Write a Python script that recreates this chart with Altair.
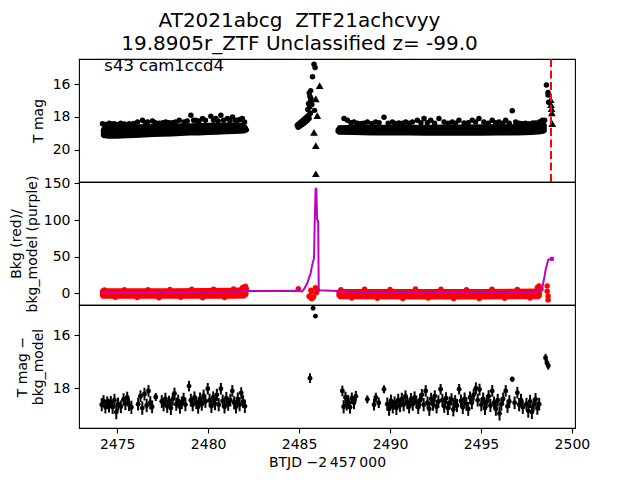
import altair as alt
import pandas as pd

FONT = "DejaVu Sans"

# ---------------- top panel: raw photometry ----------------
# dense core of the light curve (faint / bright envelope of the overlapping markers)
band_seg = [1]*20 + [2]*16
band_t = [2474.10, 2474.20, 2474.50, 2475.00, 2475.50, 2476.00, 2476.50, 2477.00, 2477.50, 2478.00,
          2478.50, 2479.00, 2479.50, 2480.00, 2480.50, 2481.00, 2481.50, 2482.00, 2482.15, 2482.25,
          2487.00, 2487.15, 2488.00, 2489.00, 2490.00, 2491.00, 2492.00, 2493.00, 2494.00, 2495.00,
          2496.00, 2497.00, 2497.80, 2498.30, 2498.50, 2498.62]
band_faint = [19.15, 19.28, 19.32, 19.32, 19.30, 19.28, 19.25, 19.22, 19.20, 19.18,
              19.15, 19.13, 19.12, 19.10, 19.08, 19.05, 19.03, 19.00, 18.95, 18.85,
              18.95, 19.08, 19.10, 19.12, 19.13, 19.13, 19.14, 19.14, 19.14, 19.14,
              19.13, 19.12, 19.10, 19.05, 19.00, 18.90]
band_bright = [18.75, 18.55, 18.52, 18.50, 18.48, 18.45, 18.45, 18.42, 18.42, 18.40,
               18.38, 18.38, 18.36, 18.35, 18.35, 18.33, 18.33, 18.35, 18.55, 18.75,
               18.75, 18.50, 18.48, 18.48, 18.47, 18.47, 18.47, 18.46, 18.46, 18.45,
               18.45, 18.43, 18.40, 18.35, 18.30, 18.45]

# individual detections (circles)
pt_t = [2474.19, 2474.35, 2474.56, 2474.70, 2474.84, 2475.00, 2475.20, 2475.40, 2475.66, 2475.90,
        2476.12, 2476.39, 2476.55, 2476.67, 2476.94, 2477.10, 2477.31, 2477.50, 2477.67, 2477.85,
        2478.04, 2478.20, 2478.41, 2478.68, 2478.85, 2479.05, 2479.20, 2479.32, 2479.50, 2479.69,
        2479.85, 2480.15, 2480.30, 2480.42, 2480.55, 2480.70, 2480.85, 2481.06, 2481.20, 2481.34,
        2481.50, 2481.61, 2481.75, 2481.88, 2482.00,
        2484.90, 2484.98, 2485.06, 2485.14, 2485.22, 2485.30, 2485.38, 2485.46, 2485.54, 2485.62,
        2484.95, 2485.05, 2485.15, 2485.25, 2485.35, 2485.45, 2485.55, 2485.48, 2485.58, 2485.52,
        2485.62, 2485.66, 2485.60, 2485.70, 2485.56, 2485.64, 2485.74, 2485.82, 2485.88, 2485.85,
        2487.47, 2487.66, 2487.85, 2488.02, 2488.20, 2488.39, 2488.55, 2488.75, 2489.00, 2489.21,
        2489.40, 2489.67, 2489.90, 2490.13, 2490.30, 2490.49, 2490.70, 2490.86, 2491.05, 2491.23,
        2491.50, 2491.70, 2491.87, 2492.05, 2492.24, 2492.45, 2492.69, 2492.97, 2493.20, 2493.42,
        2493.60, 2493.79, 2494.07, 2494.30, 2494.52, 2494.70, 2494.89, 2495.16, 2495.40, 2495.62,
        2495.80, 2495.99, 2496.20, 2496.36, 2496.55, 2496.72, 2496.91, 2497.10, 2497.27, 2497.45,
        2497.64, 2497.85, 2498.00, 2498.20, 2498.37, 2498.50,
        2498.60, 2498.69, 2498.69, 2498.72]
pt_m = [18.41, 18.45, 18.38, 18.42, 18.41, 18.45, 18.38, 18.42, 18.41, 18.40,
        18.30, 18.20, 18.35, 18.30, 18.25, 18.35, 18.38, 18.35, 18.30, 18.35,
        18.35, 18.30, 18.20, 18.30, 18.25, 17.90, 18.20, 18.20, 18.25, 18.10,
        18.20, 17.95, 18.20, 18.10, 18.25, 17.90, 18.20, 18.10, 18.25, 18.00,
        18.20, 18.20, 18.15, 18.10, 18.30,
        18.50, 18.42, 18.35, 18.28, 18.20, 18.12, 18.05, 17.97, 17.88, 17.78,
        18.62, 18.55, 18.47, 18.40, 18.30, 18.22, 18.10, 17.55, 17.40, 17.20,
        17.05, 16.90, 16.75, 17.25, 16.55, 16.40, 15.56, 14.80, 15.00, 17.60,
        18.10, 18.20, 18.35, 18.30, 18.38, 18.41, 18.38, 18.30, 18.40, 18.30,
        18.35, 18.02, 18.38, 18.30, 18.40, 18.36, 18.38, 18.30, 18.38, 18.30,
        18.20, 18.35, 18.10, 18.35, 18.20, 18.38, 18.10, 18.30, 18.38, 18.30,
        18.38, 18.20, 18.36, 18.35, 18.20, 18.30, 18.10, 18.30, 18.38, 18.20,
        18.35, 18.30, 18.38, 18.20, 18.38, 17.62, 18.30, 18.38, 18.41, 18.38,
        18.41, 18.36, 18.36, 18.30, 18.20, 18.20,
        16.06, 16.51, 16.67, 17.10]

# non-detections / upper limits (triangles)
tri_t = [2486.13, 2485.92, 2486.00, 2485.82, 2485.92, 2485.92,
         2498.83, 2498.85, 2498.88, 2498.90, 2498.92]
tri_m = [16.10, 16.90, 17.92, 18.93, 19.74, 21.45,
         16.95, 17.25, 17.50, 17.75, 18.40]

marker_t = [2498.85]          # red dashed line (discovery epoch)

# ---------------- middle panel: background ----------------
bkg_seg = [1]*7 + [2]*6
bkg_band_t = [2474.05, 2474.15, 2478.00, 2481.50, 2482.00, 2482.15, 2482.22,
              2487.05, 2487.20, 2492.00, 2495.00, 2498.20, 2498.35]
bkg_band_lo = [-4.0, -7.5, -7.5, -7.5, -7.0, -5.0, -2.0,
               -4.0, -8.0, -8.5, -8.5, -8.0, -5.0]
bkg_band_hi = [4.0, 7.0, 7.0, 7.5, 9.0, 10.0, 8.0,
               4.0, 6.0, 6.0, 6.0, 6.5, 8.0]

bkg_t = [2474.30, 2474.90, 2475.40, 2476.10, 2476.70, 2477.30, 2477.90, 2478.50, 2479.10, 2479.70,
         2480.30, 2480.90, 2481.40, 2481.90, 2482.05, 2482.10,
         2484.96, 2485.55, 2485.60, 2485.70, 2485.68, 2485.80, 2485.90, 2485.95, 2486.00, 2485.65,
         2487.30, 2487.90, 2488.60, 2489.30, 2490.00, 2490.70, 2491.40, 2492.10, 2492.80, 2493.50,
         2494.20, 2494.90, 2495.60, 2496.30, 2497.00, 2497.70, 2498.10, 2498.19, 2498.30,
         2498.64, 2498.64, 2498.69, 2498.69]
bkg_v = [4.5, -5.5, 5.0, -5.8, 4.8, -6.0, 5.2, -5.5, 5.5, -6.2,
         5.6, -5.8, 6.0, 8.0, 9.5, 6.0,
         6.3, -4.0, -5.0, -7.3, 1.8, -5.0, 7.6, 0.8, 4.1, 4.0,
         5.0, -6.5, 5.5, -6.8, 5.2, -7.0, 5.8, -6.5, 5.5, -7.0,
         5.0, -7.2, 5.6, -6.8, 5.3, -6.6, 8.0, 10.0, 6.0,
         10.0, 2.9, -3.7, -9.0]

model_t = [2474.10, 2475.00, 2476.00, 2477.00, 2478.00, 2479.00, 2480.00, 2481.00, 2482.10, 2484.90,
           2485.15, 2485.27, 2485.46, 2485.64, 2485.73, 2485.82, 2485.86, 2485.91, 2485.95, 2485.99,
           2486.05, 2486.08, 2486.12, 2487.10, 2488.00, 2490.00, 2492.00, 2494.00, 2496.00, 2498.00,
           2498.37, 2498.50, 2498.56, 2498.70, 2498.90]
model_v = [0.5, 0.7, 0.9, 1.1, 1.3, 1.5, 1.8, 2.0, 3.0, 3.5,
           2.5, 5.4, 14.4, 28.0, 39.5, 48.0, 96.0, 144.0, 142.0, 101.0,
           98.5, 5.4, 4.0, 3.0, 1.5, 1.0, 0.8, 0.8, 0.9, 1.5,
           7.6, 23.6, 32.7, 46.0, 47.0]

# ---------------- bottom panel: binned, background-subtracted ----------------
bin_t = [2474.15, 2474.25, 2474.35, 2474.45, 2474.55, 2474.65, 2474.75, 2474.85, 2474.95, 2475.05,
         2475.20, 2475.35, 2475.45, 2475.55, 2475.65, 2475.78, 2476.15, 2476.28, 2476.38, 2476.50,
         2476.62, 2476.72, 2476.82, 2476.92, 2477.12, 2477.45, 2477.55, 2477.65, 2477.75, 2477.85,
         2477.95, 2478.05, 2478.15, 2478.25, 2478.35, 2478.45, 2478.55, 2478.65, 2478.75, 2478.95,
         2479.05, 2479.15, 2479.25, 2479.35, 2479.45, 2479.55, 2479.65, 2479.75, 2479.85, 2479.98,
         2480.08, 2480.18, 2480.28, 2480.38, 2480.48, 2480.58, 2480.70, 2480.80, 2480.90, 2481.00,
         2481.10, 2481.22, 2481.33, 2481.43, 2481.53, 2481.63, 2481.73, 2481.82, 2481.92, 2482.02,
         2485.60, 2485.77, 2485.90,
         2487.38, 2487.45, 2487.55, 2487.62, 2487.70, 2487.80, 2487.90, 2488.02, 2488.12, 2488.75,
         2489.12, 2489.22, 2489.38, 2489.67, 2489.85, 2489.95, 2490.05, 2490.15, 2490.25, 2490.35,
         2490.45, 2490.55, 2490.65, 2490.75, 2490.85, 2490.95, 2491.05, 2491.15, 2491.25, 2491.35,
         2491.45, 2491.55, 2491.65, 2491.75, 2491.85, 2491.96, 2492.06, 2492.16, 2492.26, 2492.36,
         2492.46, 2492.56, 2492.66, 2492.78, 2492.88, 2492.98, 2493.08, 2493.18, 2493.28, 2493.38,
         2493.48, 2493.58, 2493.68, 2493.80, 2493.90, 2494.00, 2494.10, 2494.20, 2494.30, 2494.40,
         2494.50, 2494.60, 2494.72, 2494.82, 2494.92, 2495.02, 2495.12, 2495.22, 2495.32, 2495.42,
         2495.52, 2495.62, 2495.72, 2495.82, 2495.92, 2496.02, 2496.12, 2496.22, 2496.36, 2496.46,
         2496.56, 2496.72, 2496.85, 2497.00, 2497.10, 2497.20, 2497.30, 2497.50, 2497.60, 2497.70,
         2497.80, 2497.90, 2498.00, 2498.10, 2498.20, 2498.55, 2498.63, 2498.70]
bin_m = [18.62, 18.48, 18.70, 18.55, 18.66, 18.52, 18.72, 18.45, 18.90, 18.60,
         18.70, 18.42, 18.58, 18.35, 18.62, 18.72, 18.60, 18.30, 18.75, 18.22,
         18.65, 18.10, 18.55, 18.70, 18.33, 18.50, 18.62, 18.40, 18.68, 18.52,
         18.75, 18.42, 18.20, 18.60, 18.48, 18.70, 18.55, 18.40, 18.62, 17.92,
         18.45, 18.62, 18.35, 18.55, 18.70, 18.40, 18.60, 18.28, 18.50, 18.02,
         18.45, 18.68, 18.35, 18.58, 18.25, 18.62, 18.02, 18.48, 18.70, 18.38,
         18.60, 18.45, 18.10, 18.55, 18.70, 18.40, 18.62, 18.18, 18.50, 18.68,
         17.62, 14.98, 15.28,
         18.10, 18.70, 18.35, 18.60, 18.50, 18.72, 18.38, 18.55, 18.30, 18.42,
         18.62, 18.35, 18.55, 18.04, 18.60, 18.78, 18.48, 18.70, 18.55, 18.75,
         18.45, 18.65, 18.40, 18.62, 18.30, 18.55, 18.70, 18.42, 18.60, 18.35,
         18.52, 18.72, 18.45, 18.25, 18.62, 18.10, 18.55, 18.78, 18.40, 18.60,
         18.30, 18.70, 18.50, 18.04, 18.45, 18.68, 18.38, 18.75, 18.55, 18.42,
         18.80, 18.50, 18.65, 18.04, 18.48, 18.72, 18.40, 18.60, 18.78, 18.35,
         18.55, 18.25, 18.00, 18.45, 18.05, 18.62, 18.40, 18.75, 18.50, 18.30,
         18.65, 18.10, 18.55, 18.78, 18.45, 18.95, 18.60, 18.40, 18.10, 18.68,
         18.50, 17.66, 18.55, 18.17, 18.62, 18.45, 18.72, 18.60, 18.85, 18.50,
         18.90, 18.62, 18.42, 18.75, 18.60, 16.85, 17.05, 17.15]
bin_e = [0.25, 0.22, 0.25, 0.24, 0.26, 0.23, 0.25, 0.24, 0.27, 0.25,
         0.24, 0.23, 0.25, 0.22, 0.24, 0.25, 0.24, 0.22, 0.25, 0.24,
         0.25, 0.22, 0.25, 0.24, 0.15, 0.24, 0.25, 0.23, 0.25, 0.24,
         0.26, 0.24, 0.22, 0.25, 0.24, 0.26, 0.24, 0.23, 0.25, 0.20,
         0.24, 0.25, 0.23, 0.24, 0.26, 0.24, 0.25, 0.23, 0.24, 0.22,
         0.24, 0.25, 0.23, 0.25, 0.23, 0.25, 0.22, 0.24, 0.25, 0.24,
         0.25, 0.24, 0.22, 0.25, 0.25, 0.24, 0.25, 0.22, 0.24, 0.25,
         0.18, 0.05, 0.05,
         0.20, 0.25, 0.22, 0.24, 0.25, 0.24, 0.22, 0.24, 0.20, 0.15,
         0.22, 0.18, 0.20, 0.15, 0.25, 0.26, 0.24, 0.25, 0.24, 0.26,
         0.24, 0.25, 0.23, 0.25, 0.22, 0.24, 0.25, 0.24, 0.25, 0.23,
         0.24, 0.25, 0.24, 0.22, 0.25, 0.22, 0.24, 0.26, 0.23, 0.25,
         0.22, 0.25, 0.24, 0.20, 0.24, 0.25, 0.23, 0.26, 0.24, 0.23,
         0.26, 0.24, 0.25, 0.20, 0.24, 0.25, 0.24, 0.25, 0.26, 0.23,
         0.24, 0.22, 0.22, 0.24, 0.22, 0.25, 0.24, 0.26, 0.24, 0.23,
         0.25, 0.22, 0.24, 0.26, 0.24, 0.27, 0.25, 0.24, 0.22, 0.25,
         0.24, 0.10, 0.24, 0.22, 0.25, 0.24, 0.25, 0.24, 0.26, 0.25,
         0.26, 0.25, 0.24, 0.25, 0.24, 0.15, 0.15, 0.15]

title_lines = ["AT2021abcg\u00a0\u00a0ZTF21achcvyy", "19.8905r_ZTF Unclassified z= -99.0"]
label_text = "s43 cam1ccd4"
x_ticks = [2475, 2480, 2485, 2490, 2495, 2500]

# ---------------- tables ----------------
band_df = pd.DataFrame({"t": band_t, "faint": band_faint, "bright": band_bright, "seg": band_seg})
pt_df = pd.DataFrame({"t": pt_t, "m": pt_m})
tri_df = pd.DataFrame({"t": tri_t, "m": tri_m})
bkgband_df = pd.DataFrame({"t": bkg_band_t, "lo": bkg_band_lo, "hi": bkg_band_hi, "seg": bkg_seg})
bkg_df = pd.DataFrame({"t": bkg_t, "v": bkg_v})
model_df = pd.DataFrame({"t": model_t, "v": model_v})
bin_df = pd.DataFrame({"t": bin_t, "m": bin_m, "e": bin_e})
bin_df["lo"] = bin_df["m"] - bin_df["e"]
bin_df["hi"] = bin_df["m"] + bin_df["e"]

W, H = 496, 123
xscale = alt.Scale(domain=[2472.9, 2500.17], nice=False, zero=False)
x_none = alt.X("t:Q", scale=xscale, axis=None)

# ---------------- top ----------------
ysc_top = alt.Scale(domain=[14.48, 21.95], reverse=True, nice=False, zero=False)
yax_top = alt.Axis(values=[16, 18, 20], format="d", title="T mag")
top_band = alt.Chart(band_df).mark_area(color="black", opacity=1).encode(
    x=x_none, y=alt.Y("faint:Q", scale=ysc_top, axis=yax_top), y2="bright:Q", detail="seg:N")
top_pts = alt.Chart(pt_df).mark_circle(color="black", size=30, opacity=1).encode(
    x=x_none, y=alt.Y("m:Q", scale=ysc_top))
top_tri = alt.Chart(tri_df).mark_point(shape="triangle-up", filled=True, color="black", size=60, opacity=1).encode(
    x=x_none, y=alt.Y("m:Q", scale=ysc_top))
top_rule = alt.Chart(pd.DataFrame({"t": marker_t})).mark_rule(
    color="red", strokeWidth=2, strokeDash=[8, 3.5]).encode(x=x_none)
top_text = alt.Chart(pd.DataFrame({"s": [label_text]})).mark_text(
    align="left", baseline="alphabetic", fontSize=16.5, font=FONT, color="black").encode(
    x=alt.datum(2474.29), y=alt.datum(15.23), text="s:N")
top = alt.layer(top_band, top_pts, top_tri, top_rule, top_text).properties(width=W, height=H)

# ---------------- middle ----------------
ysc_mid = alt.Scale(domain=[-16, 152], nice=False, zero=False)
yax_mid = alt.Axis(values=[0, 50, 100, 150], format="d", titlePadding=4,
                   title=["Bkg (red)/", "bkg_model (purple)"])
mid_band = alt.Chart(bkgband_df).mark_area(color="red", opacity=1).encode(
    x=x_none, y=alt.Y("lo:Q", scale=ysc_mid, axis=yax_mid), y2="hi:Q", detail="seg:N")
mid_pts = alt.Chart(bkg_df).mark_circle(color="red", size=30, opacity=1).encode(
    x=x_none, y=alt.Y("v:Q", scale=ysc_mid))
mid_line = alt.Chart(model_df).mark_line(color="#BF00BF", strokeWidth=2).encode(
    x=x_none, y=alt.Y("v:Q", scale=ysc_mid))
mid_end = alt.Chart(model_df.tail(1)).mark_square(color="#BF00BF", size=16, opacity=1).encode(
    x=x_none, y=alt.Y("v:Q", scale=ysc_mid))
mid = alt.layer(mid_band, mid_pts, mid_line, mid_end).properties(width=W, height=H)

# ---------------- bottom ----------------
ysc_bot = alt.Scale(domain=[14.86, 19.5], reverse=True, nice=False, zero=False)
yax_bot = alt.Axis(values=[16, 18], format="d", title=["T mag \u2212", "bkg_model"])
x_bot = alt.X("t:Q", scale=xscale,
              axis=alt.Axis(values=x_ticks, format="d", title="BTJD \u22122\u2009457\u2009000"))
bot_err = alt.Chart(bin_df).mark_rule(color="black", strokeWidth=2).encode(
    x=x_bot, y=alt.Y("lo:Q", scale=ysc_bot, axis=yax_bot), y2="hi:Q")
bot_pts = alt.Chart(bin_df).mark_circle(color="black", size=24, opacity=1).encode(
    x=x_bot, y=alt.Y("m:Q", scale=ysc_bot))
bot = alt.layer(bot_err, bot_pts).properties(width=W, height=H)

chart = alt.vconcat(top, mid, bot, spacing=0).properties(
    bounds="flush",
    title=alt.TitleParams(text=title_lines, fontSize=20, font=FONT, fontWeight="normal",
                          anchor="middle", lineHeight=23, color="black", offset=3),
    padding={"left": 0, "top": 3, "right": 0, "bottom": 0},
).configure_view(stroke="black", strokeWidth=1.1).configure_axis(
    labelFont=FONT, titleFont=FONT, labelFontSize=14, titleFontSize=14,
    labelColor="black", titleColor="black", tickColor="black", tickWidth=1.1, tickSize=5,
    domain=False, grid=False, labelPadding=4, titleFontWeight="normal", titlePadding=7,
    titleLineHeight=16,
).configure_axisX(titlePadding=4)

chart.save("out.html", embed_options={"renderer": "svg", "actions": False})
